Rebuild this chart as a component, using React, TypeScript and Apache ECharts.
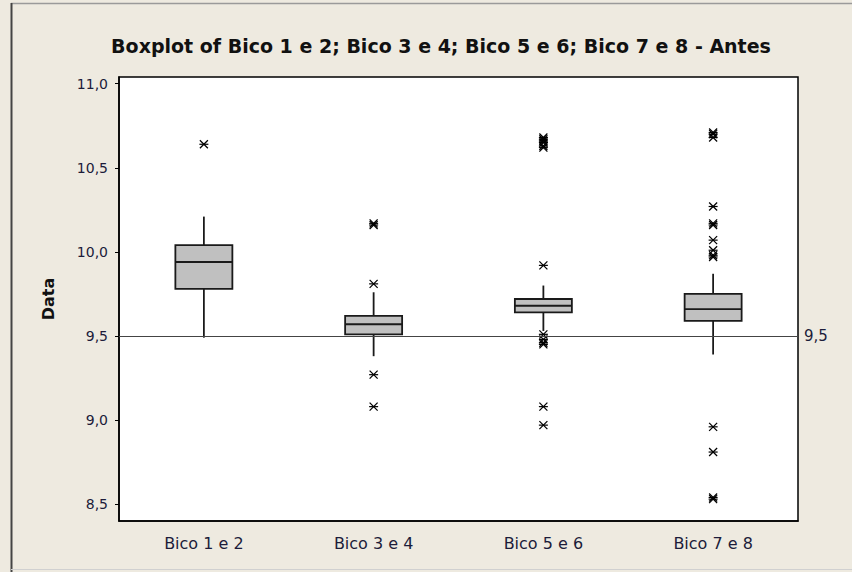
import React, { useEffect, useRef } from "react";
import * as echarts from "echarts";

const categories = ["Bico 1 e 2", "Bico 3 e 4", "Bico 5 e 6", "Bico 7 e 8"];
// [whisker low, Q1, median, Q3, whisker high]
const boxStats = [
  [9.49, 9.78, 9.94, 10.04, 10.21],
  [9.38, 9.51, 9.57, 9.62, 9.76],
  [9.53, 9.64, 9.68, 9.72, 9.8],
  [9.39, 9.59, 9.66, 9.75, 9.87],
];
const outliers12 = [10.64];
const outliers34 = [10.17, 10.16, 9.81, 9.27, 9.08];
const outliers56 = [10.68, 10.67, 10.66, 10.65, 10.63, 10.62, 9.92, 9.51, 9.48, 9.46, 9.45, 9.08, 8.97];
const outliers78 = [10.71, 10.7, 10.68, 10.27, 10.17, 10.16, 10.07, 10.01, 9.98, 9.97, 8.96, 8.81, 8.54, 8.53];
const yTicks = [8.5, 9.0, 9.5, 10.0, 10.5, 11.0];
const referenceValue = 9.5;
const titleText = "Boxplot of Bico 1 e 2; Bico 3 e 4; Bico 5 e 6; Bico 7 e 8 - Antes";

const TXT = "#1c1c3a";
const FONT = "DejaVu Sans";

export default function App() {
  const ref = useRef<HTMLDivElement>(null);
  useEffect(() => {
    document.body.style.margin = "0";
    const chart = echarts.init(ref.current!, null, { renderer: "svg" });
    const outlierData: number[][] = [];
    [outliers12, outliers34, outliers56, outliers78].forEach((arr, i) =>
      arr.forEach((v) => outlierData.push([i, v]))
    );
    const boxData = boxStats.map((b, i) => [i, ...b]);
    const BW = 57;
    chart.setOption({
      animation: false,
      backgroundColor: "#EEEAE0",
      title: {
        text: titleText,
        left: 436,
        textAlign: "center",
        top: 31,
        textStyle: { fontFamily: FONT, fontSize: 19, fontWeight: "bold", color: "#111" },
      },
      graphic: [
        { type: "line", shape: { x1: 11, y1: 3.5, x2: 852, y2: 3.5 }, style: { stroke: "#9a9a9a", lineWidth: 1.5 } },
        { type: "line", shape: { x1: 11.5, y1: 3, x2: 11.5, y2: 572 }, style: { stroke: "#444", lineWidth: 2 } },
        { type: "line", shape: { x1: 11, y1: 569.5, x2: 852, y2: 569.5 }, style: { stroke: "#d0d0d0", lineWidth: 1 } },
      ],
      grid: {
        left: 119,
        right: 54,
        top: 77,
        bottom: 51,
        show: true,
        backgroundColor: "#ffffff",
        borderColor: "#000",
        borderWidth: 1.5,
      },
      xAxis: {
        type: "category",
        data: categories,
        boundaryGap: true,
        axisLine: { lineStyle: { color: "#000", width: 1.5 } },
        axisTick: { alignWithLabel: true, length: 4, lineStyle: { color: "#000" } },
        axisLabel: { color: TXT, fontFamily: FONT, fontSize: 16, margin: 14 },
        splitLine: { show: false },
      },
      yAxis: {
        type: "value",
        min: 8.4,
        max: 11.04,
        name: "Data",
        nameLocation: "middle",
        nameGap: 63,
        nameTextStyle: { fontFamily: FONT, fontSize: 16, fontWeight: "bold", color: "#111" },
        axisLine: { show: true, lineStyle: { color: "#000", width: 1.5 } },
        axisTick: { show: true, length: 4, customValues: yTicks, lineStyle: { color: "#000" } },
        axisLabel: {
          customValues: yTicks,
          color: TXT,
          fontFamily: FONT,
          fontSize: 14,
          margin: 11,
          formatter: (v: number) => v.toFixed(1).replace(".", ","),
        },
        splitLine: { show: false },
      },
      series: [
        {
          type: "scatter",
          data: [],
          markLine: {
            silent: true,
            symbol: ["none", "none"],
            lineStyle: { color: "#444", width: 1.2, type: "solid" },
            label: {
              position: "end",
              formatter: () => String(referenceValue).replace(".", ","),
              color: TXT,
              fontFamily: FONT,
              fontSize: 15,
              distance: 6,
            },
            data: [{ yAxis: referenceValue }],
          },
        },
        {
          type: "custom",
          data: boxData,
          z: 3,
          renderItem: (params: any, api: any) => {
            const i = api.value(0);
            const lo = api.coord([i, api.value(1)]);
            const q1 = api.coord([i, api.value(2)]);
            const md = api.coord([i, api.value(3)]);
            const q3 = api.coord([i, api.value(4)]);
            const hi = api.coord([i, api.value(5)]);
            const x = lo[0];
            const st = { stroke: "#1a1a1a", lineWidth: 1.8 };
            return {
              type: "group",
              children: [
                { type: "line", shape: { x1: x, y1: hi[1], x2: x, y2: q3[1] }, style: st },
                { type: "line", shape: { x1: x, y1: q1[1], x2: x, y2: lo[1] }, style: st },
                {
                  type: "rect",
                  shape: { x: x - BW / 2, y: q3[1], width: BW, height: q1[1] - q3[1] },
                  style: { fill: "#C0C0C0", stroke: "#1a1a1a", lineWidth: 1.8 },
                },
                { type: "line", shape: { x1: x - BW / 2, y1: md[1], x2: x + BW / 2, y2: md[1] }, style: st },
              ],
            };
          },
        },
        {
          type: "custom",
          data: outlierData,
          z: 4,
          renderItem: (params: any, api: any) => {
            const p = api.coord([api.value(0), api.value(1)]);
            const s = 4;
            const st = { stroke: "#000", lineWidth: 1.2 };
            return {
              type: "group",
              children: [
                { type: "line", shape: { x1: p[0] - s, y1: p[1] - s, x2: p[0] + s, y2: p[1] + s }, style: st },
                { type: "line", shape: { x1: p[0] - s, y1: p[1] + s, x2: p[0] + s, y2: p[1] - s }, style: st },
                { type: "line", shape: { x1: p[0] - s - 0.5, y1: p[1], x2: p[0] + s + 0.5, y2: p[1] }, style: st },
              ],
            };
          },
        },
      ],
    });
    return () => chart.dispose();
  }, []);
  return <div ref={ref} style={{ width: 852, height: 572 }} />;
}
